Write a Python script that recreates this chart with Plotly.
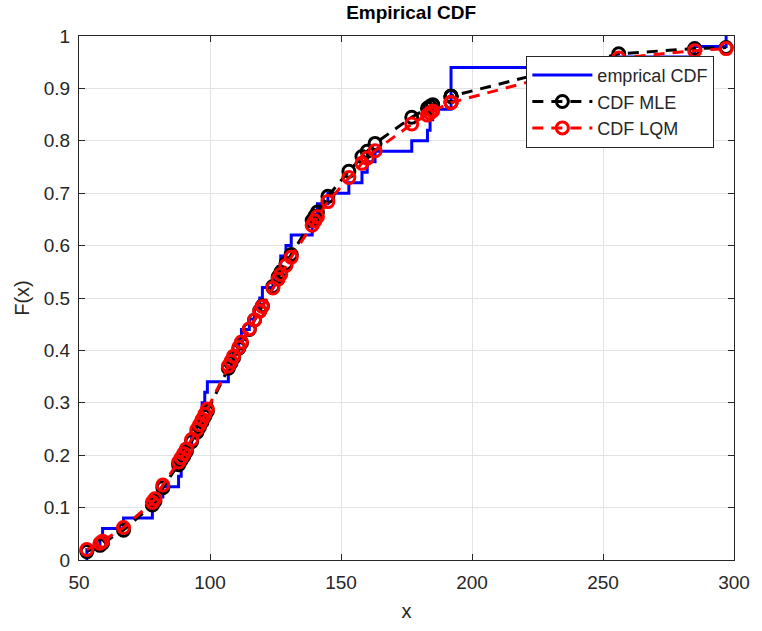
import plotly.graph_objects as go

# sorted sample values
x_data = [53, 58, 59, 67, 78, 79, 82, 88, 89, 90, 91, 93, 95, 96, 97, 98, 99,
          107, 108, 109, 111, 112, 115, 117, 119, 120, 124, 126, 127, 129, 131,
          139, 140, 141, 145, 153, 158, 160, 163, 177, 183, 184, 185,
          192, 192, 192, 192, 256, 285, 297]

# empirical CDF levels after each sample
ecdf_F = [0.02, 0.04, 0.06, 0.08, 0.10, 0.12, 0.14, 0.16, 0.18, 0.20, 0.22, 0.24,
          0.26, 0.28, 0.30, 0.32, 0.34, 0.36, 0.38, 0.40, 0.42, 0.44, 0.46, 0.48,
          0.50, 0.52, 0.54, 0.56, 0.58, 0.60, 0.62, 0.64, 0.66, 0.68, 0.70, 0.72,
          0.74, 0.76, 0.78, 0.80, 0.82, 0.84, 0.86, 0.88, 0.90, 0.92, 0.94, 0.96,
          0.98, 1.00]

cdf_mle = [0.016, 0.028, 0.032, 0.057, 0.105, 0.112, 0.138, 0.182, 0.19, 0.198,
           0.207, 0.226, 0.244, 0.254, 0.264, 0.274, 0.284, 0.366, 0.376, 0.386,
           0.404, 0.414, 0.44, 0.458, 0.476, 0.485, 0.522, 0.54, 0.549, 0.566,
           0.583, 0.648, 0.656, 0.664, 0.694, 0.742, 0.77, 0.78, 0.795, 0.845,
           0.862, 0.866, 0.869, 0.885, 0.885, 0.885, 0.885, 0.966, 0.976, 0.978]

cdf_lqm = [0.02, 0.032, 0.036, 0.062, 0.11, 0.117, 0.143, 0.187, 0.195, 0.203,
           0.212, 0.23, 0.249, 0.258, 0.268, 0.278, 0.288, 0.37, 0.379, 0.389,
           0.406, 0.416, 0.441, 0.458, 0.475, 0.484, 0.519, 0.536, 0.545, 0.562,
           0.578, 0.639, 0.647, 0.655, 0.684, 0.73, 0.757, 0.767, 0.781, 0.832,
           0.849, 0.853, 0.857, 0.873, 0.873, 0.873, 0.873, 0.958, 0.972, 0.976]

x_ticks = [50, 100, 150, 200, 250, 300]
y_ticks = [0, 0.1, 0.2, 0.3, 0.4, 0.5, 0.6, 0.7, 0.8, 0.9, 1]

AX = "#262626"
FONT = "Liberation Sans, Arial, sans-serif"

fig = go.Figure()
fig.add_trace(go.Scatter(
    x=[x_data[0]] + x_data, y=[0] + ecdf_F, mode="lines", line_shape="hv",
    line=dict(color="#0000ff", width=3), name="emprical CDF"))
fig.add_trace(go.Scatter(
    x=x_data, y=cdf_mle, mode="lines+markers", name="CDF MLE",
    line=dict(color="black", width=3, dash="11px,8px"),
    marker=dict(symbol="circle-open", size=12, color="black", line=dict(width=3, color="black"))))
fig.add_trace(go.Scatter(
    x=x_data, y=cdf_lqm, mode="lines+markers", name="CDF LQM",
    line=dict(color="#ff0000", width=3, dash="11px,8px"),
    marker=dict(symbol="circle-open", size=12, color="#ff0000", line=dict(width=3, color="#ff0000"))))

axis_common = dict(showline=True, linecolor=AX, linewidth=1, mirror="ticks",
                   ticks="inside", ticklen=6, tickcolor=AX, showgrid=True,
                   gridcolor="#e3e3e3", gridwidth=1, zeroline=False,
                   tickfont=dict(family=FONT, size=19, color=AX))

fig.update_xaxes(range=[50, 300], tickvals=x_ticks, ticklabelstandoff=5,
                 title=dict(text="x", font=dict(family=FONT, size=20, color=AX), standoff=12),
                 **axis_common)
fig.update_yaxes(range=[0, 1], tickvals=y_ticks, ticklabelstandoff=4,
                 title=dict(text="F(x)", font=dict(family=FONT, size=20, color=AX), standoff=8),
                 **axis_common)

fig.update_layout(
    width=762, height=631,
    margin=dict(l=79, r=18, t=36, b=70),
    paper_bgcolor="white", plot_bgcolor="white",
    title=dict(text="<b>Empirical CDF</b>", x=0.507, xref="paper",
               y=0.981, yanchor="middle", font=dict(family=FONT, size=19, color="black")),
    legend=dict(x=0.683, y=0.962, xanchor="left", yanchor="top",
                bgcolor="white", bordercolor=AX, borderwidth=1,
                font=dict(family=FONT, size=18, color=AX), itemwidth=60,
                traceorder="normal"),
    showlegend=True,
)

fig.write_html("out.html")
